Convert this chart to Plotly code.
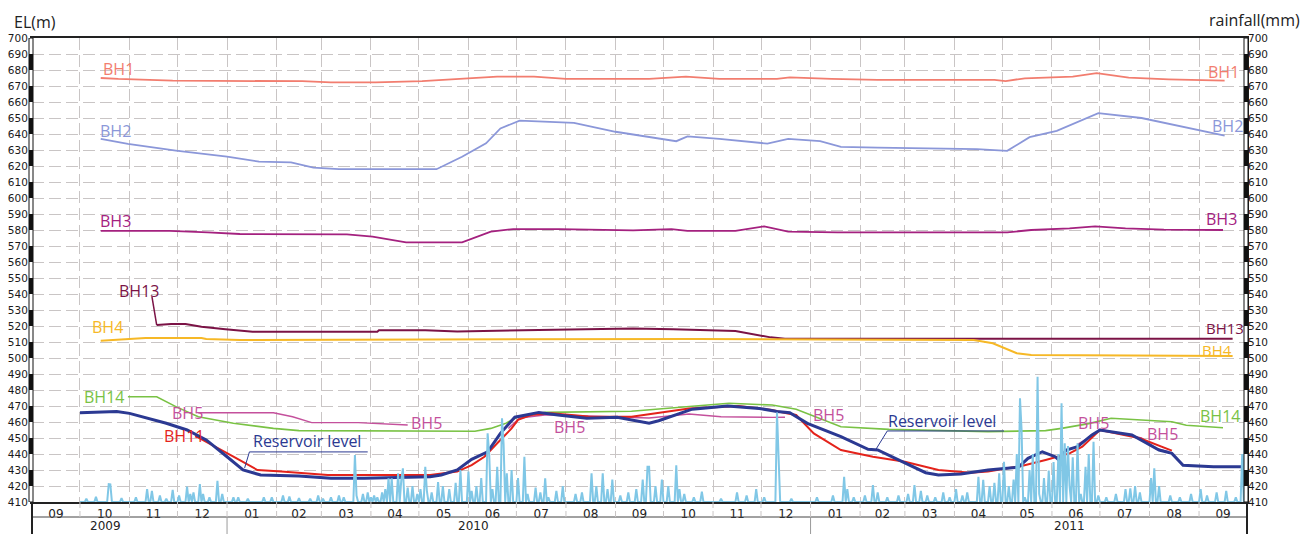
import pandas as pd
import plotly.graph_objects as go

# ---------------- borehole groundwater levels, EL (m) ----------------
bh1_dates = ["2009-10-14", "2009-10-25", "2009-11-28", "2010-02-17", "2010-03-07", "2010-04-04",
             "2010-05-03", "2010-05-29", "2010-06-19", "2010-07-12", "2010-08-01", "2010-09-22",
             "2010-10-15", "2010-11-05", "2010-12-11", "2010-12-19", "2011-01-14", "2011-02-12",
             "2011-04-26", "2011-05-03", "2011-05-15", "2011-06-14", "2011-06-29", "2011-07-19",
             "2011-08-13", "2011-09-17"]
bh1_el = [675.0, 674.4, 673.3, 673.0, 672.3, 672.3, 673.0, 674.4, 675.8, 675.8, 674.4, 674.4,
          675.8, 674.4, 674.4, 675.4, 674.4, 673.8, 673.8, 673.1, 674.8, 675.8, 678.0, 675.2,
          674.2, 673.3]

bh2_dates = ["2009-10-14", "2009-10-31", "2009-11-30", "2010-01-01", "2010-01-21", "2010-02-10",
             "2010-02-24", "2010-03-12", "2010-05-12", "2010-05-28", "2010-06-12", "2010-06-21",
             "2010-07-03", "2010-08-06", "2010-09-01", "2010-09-22", "2010-10-09", "2010-10-16",
             "2010-11-05", "2010-12-05", "2010-12-18", "2011-01-07", "2011-01-20", "2011-02-12",
             "2011-04-15", "2011-05-04", "2011-05-18", "2011-06-04", "2011-06-30", "2011-07-27",
             "2011-09-17"]
bh2_el = [637.0, 633.8, 629.6, 625.8, 622.7, 622.3, 619.0, 618.0, 618.0, 625.8, 634.2, 643.5,
          648.3, 647.0, 641.4, 638.0, 635.5, 638.5, 637.0, 634.0, 637.0, 635.5, 632.0, 631.5,
          630.5, 629.5, 638.0, 642.0, 653.0, 650.0, 639.0]

bh3_dates = ["2009-10-14", "2009-11-26", "2009-12-20", "2010-01-09", "2010-03-17", "2010-04-02",
             "2010-04-23", "2010-05-28", "2010-06-15", "2010-06-29", "2010-07-28", "2010-09-12",
             "2010-10-06", "2010-10-16", "2010-11-15", "2010-12-03", "2010-12-18", "2011-01-18",
             "2011-05-04", "2011-05-19", "2011-06-12", "2011-06-28", "2011-07-17", "2011-08-10",
             "2011-09-16"]
bh3_el = [579.4, 579.4, 578.5, 577.5, 577.3, 575.8, 572.3, 572.3, 579.0, 580.6, 580.6, 579.8,
          580.6, 579.4, 579.4, 582.3, 579.0, 578.5, 578.5, 580.0, 581.0, 582.3, 581.0, 580.2,
          580.0]

bh13_dates = ["2009-11-18", "2009-11-27", "2009-12-06", "2009-12-16", "2009-12-31", "2010-01-17",
              "2010-04-05", "2010-04-06", "2010-05-05", "2010-05-25", "2010-07-15", "2010-09-12",
              "2010-10-07", "2010-10-22", "2010-11-15", "2010-12-07", "2010-12-16", "2011-09-22"]
bh13_el = [520.6, 521.3, 521.3, 519.6, 518.0, 516.4, 516.4, 517.3, 517.3, 516.6, 517.5, 518.5,
           518.0, 517.5, 516.9, 512.9, 512.0, 512.0]

bh4_dates = ["2009-10-14", "2009-11-11", "2009-12-16", "2009-12-19", "2010-01-09", "2010-10-22",
             "2011-04-13", "2011-04-25", "2011-05-10", "2011-05-19", "2011-09-22"]
bh4_el = [510.8, 512.5, 512.5, 511.9, 511.3, 511.9, 511.3, 509.2, 503.0, 501.9, 501.3]

bh14_dates = ["2009-10-31", "2009-11-18", "2009-11-30", "2009-12-14", "2010-01-05", "2010-01-30",
              "2010-02-15", "2010-04-07", "2010-06-05", "2010-06-15", "2010-06-24", "2010-07-02",
              "2010-07-19", "2010-09-11", "2010-09-28", "2010-10-17", "2010-11-11", "2010-12-08",
              "2010-12-23", "2011-01-20", "2011-02-19", "2011-04-22", "2011-05-28", "2011-06-07",
              "2011-06-24", "2011-07-08", "2011-07-30", "2011-08-15", "2011-08-24", "2011-09-16"]
bh14_el = [475.8, 475.8, 469.6, 463.3, 459.2, 456.0, 454.6, 454.2, 454.2, 456.0, 459.0, 463.3,
           466.0, 466.7, 468.0, 469.6, 471.7, 470.6, 468.0, 457.0, 455.4, 454.0, 454.6, 456.0,
           459.0, 462.3, 461.3, 460.2, 458.0, 456.4]

# BH5 was logged in three separate campaigns (None = no record)
bh5_dates = ["2009-12-14", "2010-01-30", "2010-02-11", "2010-02-23", "2010-03-24", "2010-04-07",
             "2010-04-24", "2010-05-20",
             "2010-06-26", "2010-07-03", "2010-07-20", "2010-08-15", "2010-09-22", "2010-10-17",
             "2010-11-06", "2010-12-08", "2010-12-16", "2011-03-01",
             "2011-06-17", "2011-06-27", "2011-07-01", "2011-07-27", "2011-08-05", "2011-08-13"]
bh5_el = [465.8, 465.8, 463.3, 459.6, 459.6, 458.8, 458.1, None,
          456.0, 462.5, 464.5, 463.5, 462.5, 465.0, 463.3, 462.9, 463.0, None,
          446.0, 452.0, 455.5, 450.0, 443.5, 441.4]

bh11_dates = ["2009-12-12", "2009-12-15", "2010-01-05", "2010-01-20", "2010-02-04", "2010-03-05",
              "2010-05-08", "2010-05-25", "2010-06-03", "2010-06-11", "2010-06-19", "2010-06-28",
              "2010-07-02", "2010-07-10", "2010-07-23", "2010-08-15", "2010-09-11", "2010-09-22",
              "2010-10-17", "2010-11-17", "2010-12-08", "2010-12-17", "2010-12-23", "2011-01-03",
              "2011-01-20", "2011-02-09", "2011-03-01", "2011-03-22", "2011-04-11", "2011-04-22",
              "2011-05-13", "2011-05-28", "2011-06-12", "2011-06-20", "2011-07-01", "2011-07-26",
              "2011-08-15"]
bh11_el = [451.0, 449.8, 438.3, 430.0, 429.0, 426.9, 426.9, 429.0, 433.0, 438.3, 446.7, 456.0,
           461.3, 464.4, 465.4, 463.5, 463.3, 465.0, 468.5, 470.0, 467.5, 465.4, 464.4, 452.9,
           442.5, 438.3, 435.2, 430.0, 428.3, 429.0, 432.5, 436.3, 440.4, 444.6, 455.0, 449.8,
           442.1]

res_dates = ["2009-10-01", "2009-10-24", "2009-11-01", "2009-11-13", "2009-11-24", "2009-12-07",
             "2009-12-19", "2010-01-01", "2010-01-11", "2010-01-22", "2010-02-15", "2010-03-07",
             "2010-03-28", "2010-05-08", "2010-05-15", "2010-05-25", "2010-06-03", "2010-06-13",
             "2010-06-21", "2010-06-30", "2010-07-15", "2010-07-27", "2010-08-14", "2010-09-02",
             "2010-09-22", "2010-09-28", "2010-10-09", "2010-10-19", "2010-11-10", "2010-11-30",
             "2010-12-11", "2010-12-19", "2010-12-30", "2011-01-20", "2011-02-06", "2011-02-12",
             "2011-02-25", "2011-03-14", "2011-03-22", "2011-04-05", "2011-04-22", "2011-05-11",
             "2011-05-17", "2011-05-26", "2011-06-03", "2011-06-05", "2011-06-10", "2011-06-17",
             "2011-06-26", "2011-07-01", "2011-07-21", "2011-07-30", "2011-08-07", "2011-08-15",
             "2011-08-22", "2011-09-10", "2011-09-29"]
res_el = [465.8, 466.5, 465.4, 462.3, 459.2, 455.0, 448.8, 438.3, 430.0, 426.9, 426.3, 424.8,
          424.8, 425.8, 426.9, 430.0, 436.7, 441.4, 452.9, 463.0, 466.0, 464.4, 462.3, 462.9,
          459.2, 460.8, 464.4, 468.0, 470.0, 468.5, 466.5, 465.8, 459.2, 450.8, 442.9, 442.5,
          436.3, 428.3, 426.9, 427.5, 430.0, 431.7, 437.3, 441.4, 438.3, 436.5, 442.5, 444.6,
          451.9, 455.0, 451.9, 446.7, 442.5, 440.4, 433.0, 432.1, 432.1]

# ---------------- daily rainfall, read on the right-hand scale ----------------
rain_dates = [
    # 2009
    "2009-10-05", "2009-10-11", "2009-10-19", "2009-10-20", "2009-10-27", "2009-11-05",
    "2009-11-12", "2009-11-15", "2009-11-20", "2009-11-24", "2009-11-28", "2009-12-02",
    "2009-12-07", "2009-12-09", "2009-12-11", "2009-12-15", "2009-12-17", "2009-12-21",
    "2009-12-26", "2009-12-29",
    # 2010
    "2010-01-05", "2010-01-08", "2010-01-14", "2010-01-24", "2010-01-29", "2010-02-05",
    "2010-02-09", "2010-02-15", "2010-02-22", "2010-02-27", "2010-03-02", "2010-03-07",
    "2010-03-12", "2010-03-15", "2010-03-22", "2010-03-23", "2010-03-27", "2010-03-30",
    "2010-04-01", "2010-04-03", "2010-04-05", "2010-04-08", "2010-04-10", "2010-04-12",
    "2010-04-14", "2010-04-18", "2010-04-20", "2010-04-21", "2010-04-24", "2010-04-27",
    "2010-04-30", "2010-05-02", "2010-05-05", "2010-05-06", "2010-05-09", "2010-05-13",
    "2010-05-16", "2010-05-20", "2010-05-24", "2010-05-27", "2010-06-01", "2010-06-03",
    "2010-06-06", "2010-06-09", "2010-06-13", "2010-06-14", "2010-06-16", "2010-06-19",
    "2010-06-22", "2010-06-23", "2010-06-25", "2010-06-28", "2010-07-02", "2010-07-06",
    "2010-07-08", "2010-07-13", "2010-07-16", "2010-07-19", "2010-07-21", "2010-07-26",
    "2010-07-30", "2010-08-07", "2010-08-11", "2010-08-17", "2010-08-20", "2010-08-24",
    "2010-08-27", "2010-08-30", "2010-09-04", "2010-09-09", "2010-09-14", "2010-09-18",
    "2010-09-21", "2010-09-22", "2010-09-26", "2010-09-30", "2010-10-04", "2010-10-09",
    "2010-10-11", "2010-10-14", "2010-10-20", "2010-10-25", "2010-11-06", "2010-11-16",
    "2010-11-22", "2010-11-28", "2010-12-03", "2010-12-11", "2010-12-12", "2010-12-20",
    # 2011
    "2011-01-05", "2011-01-15", "2011-01-22", "2011-01-24", "2011-01-28", "2011-02-04",
    "2011-02-09", "2011-02-12", "2011-02-18", "2011-02-25", "2011-03-03", "2011-03-07",
    "2011-03-11", "2011-03-15", "2011-03-20", "2011-03-25", "2011-03-29", "2011-04-02",
    "2011-04-06", "2011-04-09", "2011-04-16", "2011-04-19", "2011-04-23", "2011-04-26",
    "2011-04-29", "2011-05-02", "2011-05-05", "2011-05-08", "2011-05-10", "2011-05-12",
    "2011-05-13", "2011-05-15", "2011-05-18", "2011-05-20", "2011-05-23", "2011-05-24",
    "2011-05-27", "2011-05-30", "2011-06-02", "2011-06-05", "2011-06-07", "2011-06-09",
    "2011-06-11", "2011-06-12", "2011-06-14", "2011-06-17", "2011-06-19", "2011-06-22",
    "2011-06-24", "2011-06-27", "2011-06-30", "2011-07-05", "2011-07-11", "2011-07-17",
    "2011-07-20", "2011-07-23", "2011-07-26", "2011-08-02", "2011-08-04", "2011-08-07",
    "2011-08-14", "2011-08-20", "2011-08-27", "2011-09-02", "2011-09-06", "2011-09-12",
    "2011-09-18", "2011-09-24", "2011-09-28", "2011-09-30",
]
rain_level = [
    # 2009
    412.0, 413.3, 421.2, 421.0, 412.5, 413.0,
    418.0, 417.0, 414.0, 412.0, 417.5, 414.0,
    419.6, 415.0, 416.0, 421.2, 415.0, 413.0,
    423.3, 415.0,
    # 2010
    413.0, 413.0, 412.0, 413.0, 413.0, 414.0,
    413.5, 412.5, 412.0, 414.0, 412.0, 413.0,
    414.0, 413.0, 439.4, 414.0, 415.0, 416.0,
    413.0, 414.0, 413.0, 416.0, 418.0, 424.8,
    424.8, 427.9, 423.8, 431.0, 419.0, 420.0,
    415.0, 418.0, 432.0, 417.0, 416.0, 422.5,
    420.0, 418.0, 422.0, 430.0, 429.0, 417.0,
    420.0, 425.0, 452.9, 440.0, 418.0, 432.0,
    462.3, 446.0, 428.0, 430.0, 425.0, 438.3,
    415.0, 419.0, 416.0, 424.8, 413.0, 417.0,
    420.0, 415.0, 416.0, 427.9, 420.0, 427.9,
    418.0, 424.0, 414.0, 416.0, 418.0, 424.0,
    432.0, 432.0, 420.0, 424.0, 420.0, 433.0,
    418.0, 415.0, 413.0, 416.5, 412.0, 416.0,
    414.0, 418.0, 413.0, 466.0, 430.0, 412.0,
    # 2011
    413.0, 414.0, 425.8, 418.0, 413.0, 414.0,
    420.6, 416.0, 413.0, 414.0, 415.0, 420.6,
    417.0, 414.0, 413.0, 416.0, 413.0, 418.0,
    414.0, 416.0, 425.8, 423.8, 420.0, 422.0,
    428.0, 435.2, 420.0, 424.0, 440.0, 474.8,
    455.0, 413.0, 430.0, 440.0, 488.3, 415.0,
    425.0, 429.6, 435.0, 440.0, 471.7, 446.7,
    445.0, 420.0, 438.0, 446.7, 415.0, 432.0,
    440.0, 447.7, 414.0, 413.0, 415.0, 418.0,
    418.5, 420.0, 416.0, 425.0, 431.0, 420.0,
    414.0, 413.0, 415.0, 418.0, 414.0, 416.0,
    417.0, 413.0, 440.0, 481.0,
]
RAIN_BASE = 410.0

days = pd.date_range("2009-10-01", "2011-09-30", freq="D")
rain = pd.Series(RAIN_BASE, index=days)
rain.loc[pd.to_datetime(rain_dates)] = rain_level

# ---------------- figure ----------------
C_BH1, C_BH2, C_BH3 = "#f27d6f", "#8b97d9", "#a4217f"
C_BH13, C_BH4, C_BH14 = "#7b1346", "#f6b826", "#79c244"
C_BH5, C_BH11, C_RES, C_RAIN = "#c4509c", "#e4231b", "#2b3992", "#80c7e6"

fig = go.Figure()


def add_line(x, y, color, width):
    fig.add_trace(go.Scatter(x=x, y=y, mode="lines", line=dict(color=color, width=width),
                             connectgaps=False, hoverinfo="skip", showlegend=False))


add_line(bh1_dates, bh1_el, C_BH1, 1.8)
add_line(bh2_dates, bh2_el, C_BH2, 1.8)
add_line(bh3_dates, bh3_el, C_BH3, 1.8)
add_line(bh13_dates, bh13_el, C_BH13, 2)
add_line(bh4_dates, bh4_el, C_BH4, 2)
add_line(bh14_dates, bh14_el, C_BH14, 1.6)
add_line(bh5_dates, bh5_el, C_BH5, 1.4)
add_line(bh11_dates, bh11_el, C_BH11, 2)
add_line(res_dates, res_el, C_RES, 3)

fig.add_trace(go.Scatter(x=rain.index, y=rain.values, mode="lines", yaxis="y2",
                         line=dict(color=C_RAIN, width=2), hoverinfo="skip", showlegend=False))

FONT = "DejaVu Sans"
LABEL_FONT = "Open Sans"
PX = 1 / 1215.0   # one pixel in paper-x units
PY = 1 / 464.0    # one pixel in paper-y units

GRID = "#c9c5c5"
fig.update_layout(
    width=1315, height=534,
    margin=dict(l=32, r=68, t=38, b=32),
    paper_bgcolor="white", plot_bgcolor="white",
    showlegend=False,
    xaxis=dict(type="date", range=["2009-09-01", "2011-10-01"], dtick="M1",
               tick0="2009-09-01", tickformat="%m", ticklabelmode="period",
               ticks="", showgrid=True, gridcolor=GRID, griddash="12px,5px", gridwidth=1,
               showline=True, linecolor="#222", linewidth=2, mirror=True, automargin=False,
               tickfont=dict(family=FONT, size=12, color="#222"), zeroline=False),
    yaxis=dict(range=[410, 700], dtick=10, tick0=410, ticks="", automargin=False,
               showgrid=True, gridcolor=GRID, griddash="12px,5px", gridwidth=1,
               showline=True, linecolor="#222", linewidth=2, mirror=True,
               tickfont=dict(family=FONT, size=10.5, color="#1a1a1a"), zeroline=False),
    yaxis2=dict(range=[410, 700], dtick=10, tick0=410, overlaying="y", side="right",
                ticks="", showgrid=False, showline=False, zeroline=False, automargin=False,
                tickfont=dict(family=FONT, size=10.5, color="#1a1a1a")),
)

shapes = []

# scale bars along the two elevation axes
for xp in (0.0, 1.0):
    shapes.append(dict(type="rect", xref="paper", yref="y", x0=xp - 3 * PX, x1=xp + 1 * PX,
                       y0=410, y1=700, line=dict(color="#111", width=1), fillcolor="white",
                       layer="above"))
    for v in range(420, 700, 20):
        shapes.append(dict(type="rect", xref="paper", yref="y", x0=xp - 3 * PX, x1=xp + 1 * PX,
                           y0=v, y1=v + 10, line=dict(width=0), fillcolor="#111", layer="above"))

# month / year rows under the plot
ROW1 = -15 * PY
ROW2 = -32 * PY
shapes.append(dict(type="line", xref="paper", yref="paper", x0=0, x1=1, y0=ROW1, y1=ROW1,
                   line=dict(color="#444", width=1)))
for xp in (0.0, 1.0):
    shapes.append(dict(type="line", xref="paper", yref="paper", x0=xp, x1=xp, y0=0, y1=ROW2,
                       line=dict(color="#222", width=2)))
for m in pd.date_range("2009-10-01", "2011-09-01", freq="MS"):
    shapes.append(dict(type="line", xref="x", yref="paper", x0=m, x1=m, y0=0, y1=ROW1,
                       line=dict(color=GRID, width=1, dash="6px,3px")))
for yb in ("2010-01-01", "2011-01-01"):
    shapes.append(dict(type="line", xref="x", yref="paper", x0=yb, x1=yb, y0=ROW1, y1=ROW2,
                       line=dict(color="#9a9a9a", width=1)))

# leader for the BH13 tag
shapes.append(dict(type="line", xref="x", yref="y", x0="2009-11-15", y0=538.5,
                   x1=bh13_dates[0], y1=bh13_el[0], line=dict(color=C_BH13, width=1.5)))

# underlined "Reservoir level" tags with leaders to the curve
for (u0, u1, uy, lx, ly) in (("2010-01-15", "2010-03-30", 441.3, "2010-01-12", 431.3),
                             ("2011-02-18", "2011-05-02", 454.4, "2011-02-11", 443.1)):
    shapes.append(dict(type="line", xref="x", yref="y", x0=u0, x1=u1, y0=uy, y1=uy,
                       line=dict(color=C_RES, width=1)))
    shapes.append(dict(type="line", xref="x", yref="y", x0=u0, x1=lx, y0=uy, y1=ly,
                       line=dict(color=C_RES, width=1)))

fig.update_layout(shapes=shapes)

annotations = []


def tag(text, x, y, color, size=16):
    annotations.append(dict(text=text, x=x, y=y, xref="x", yref="y", showarrow=False,
                             xanchor="center", yanchor="middle",
                             font=dict(family=LABEL_FONT, size=size, color=color)))


tag("BH1", "2009-10-25", 680.6, C_BH1)
tag("BH1", "2011-09-16", 678.8, C_BH1)
tag("BH2", "2009-10-23", 641.9, C_BH2)
tag("BH2", "2011-09-19", 645.0, C_BH2)
tag("BH3", "2009-10-23", 585.6, C_BH3)
tag("BH3", "2011-09-15", 586.9, C_BH3)
tag("BH13", "2009-11-07", 541.9, C_BH13)
tag("BH13", "2011-09-17", 518.8, C_BH13, 15)
tag("BH4", "2009-10-18", 519.4, C_BH4)
tag("BH4", "2011-09-12", 505.2, C_BH4, 15)
tag("BH14", "2009-10-16", 475.6, C_BH14)
tag("BH14", "2011-09-14", 463.8, C_BH14)
tag("BH5", "2009-12-07", 465.6, C_BH5)
tag("BH11", "2009-12-05", 451.3, C_BH11)
tag("BH5", "2010-05-06", 459.4, C_BH5)
tag("BH5", "2010-08-03", 456.9, C_BH5)
tag("BH5", "2011-01-12", 464.4, C_BH5)
tag("BH5", "2011-06-27", 459.4, C_BH5)
tag("BH5", "2011-08-09", 452.5, C_BH5)
tag("Reservoir level", "2010-02-20", 448.1, C_RES)
tag("Reservoir level", "2011-03-24", 460.6, C_RES)

# year captions in the lower row
for ytxt, xd in (("2009", "2009-10-17"), ("2010", "2010-06-04"), ("2011", "2011-06-12")):
    annotations.append(dict(text=ytxt, x=xd, y=-24 * PY, xref="x", yref="paper",
                            showarrow=False, xanchor="center", yanchor="middle",
                            font=dict(family=FONT, size=12, color="#222")))

# axis titles
annotations.append(dict(text="EL(m)", x=-20 * PX, y=1 + 16 * PY, xref="paper", yref="paper",
                        showarrow=False, xanchor="left", yanchor="middle",
                        font=dict(family=LABEL_FONT, size=16, color="#222")))
annotations.append(dict(text="rainfall(mm)", x=1 + 55 * PX, y=1 + 18 * PY, xref="paper",
                        yref="paper", showarrow=False, xanchor="right", yanchor="middle",
                        font=dict(family=LABEL_FONT, size=16, color="#222")))

fig.update_layout(annotations=annotations)

fig.write_html("out.html")
